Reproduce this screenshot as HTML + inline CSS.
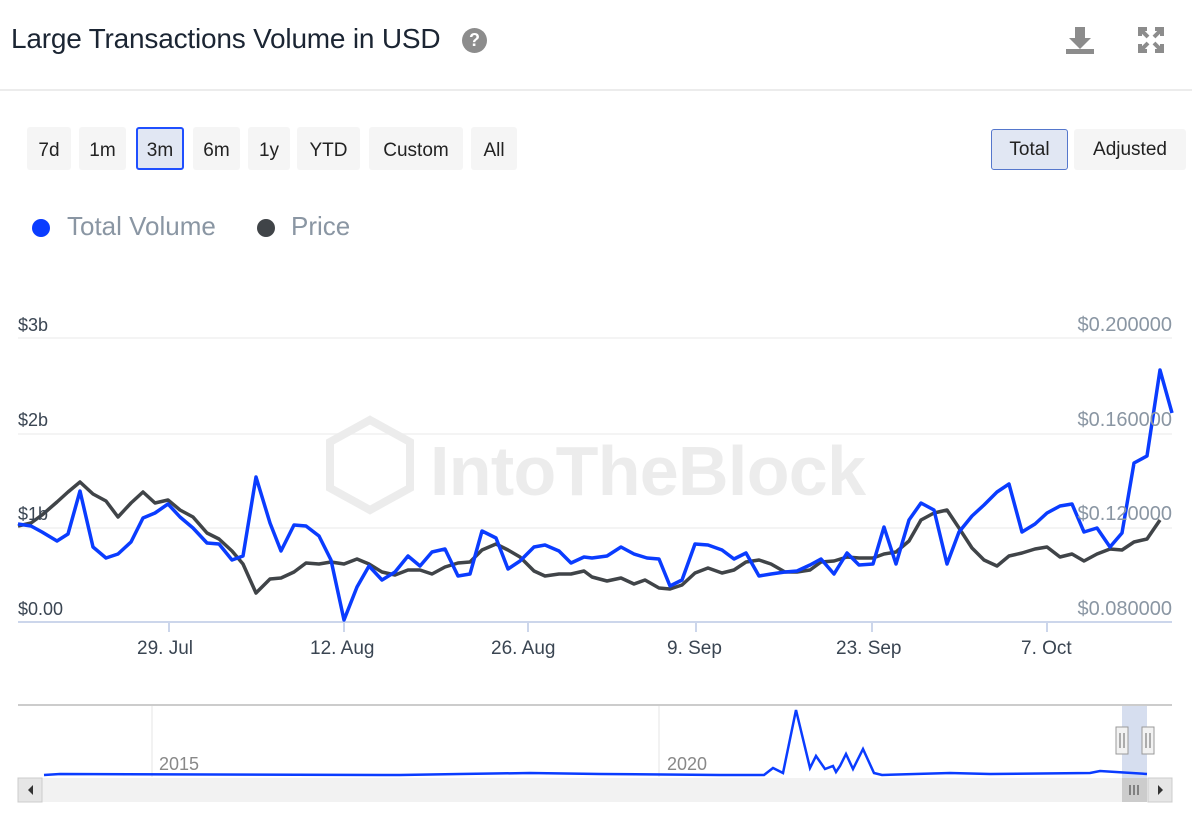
<!DOCTYPE html>
<html><head><meta charset="utf-8"><style>
body{margin:0;width:1192px;height:820px;background:#fff;font-family:"Liberation Sans",sans-serif;position:relative;overflow:hidden}
.t{position:absolute;left:11px;top:23px;font-size:28px;color:#1b2533;letter-spacing:-0.2px}
.q{position:absolute;left:462px;top:28px;width:25px;height:25px;border-radius:50%;background:#8c8c8c;color:#fff;font-weight:bold;font-size:18px;text-align:center;line-height:25px}
.hr{position:absolute;left:0;right:0;top:89px;height:2px;background:#ececec}
.b{position:absolute;top:127px;height:43px;background:#f5f5f5;border-radius:3px;font-size:19px;color:#222;text-align:center;line-height:48px;box-sizing:border-box}
.leg{position:absolute;top:211px;font-size:26px;color:#8a96a3}
.dot{position:absolute;top:219px;width:18px;height:18px;border-radius:50%}
.yl{position:absolute;font-size:18px;color:#3a4552}
.yr{position:absolute;font-size:20px;color:#8a96a3;right:20px}
.xl{position:absolute;top:638px;font-size:19px;color:#3a4552}
</style></head><body>
<div class="t">Large Transactions Volume in USD</div>
<div class="q">?</div>
<svg style="position:absolute;left:1064px;top:25px" width="32" height="30"><path d="M11 2h10v11h6l-11 11-11-11h6z" fill="#8c8c8c"/><rect x="2" y="24" width="28" height="5" fill="#8c8c8c"/></svg>
<svg style="position:absolute;left:1137px;top:26px" width="28" height="28" stroke="#8c8c8c" stroke-width="4" fill="none"><path d="M3 10V3h7M25 10V3h-7M3 18v7h7M25 18v7h-7M4 4l7 7M24 4l-7 7M4 24l7-7M24 24l-7-7"/></svg>
<div class="hr"></div>
<div class="b" style="left:27px;width:44px">7d</div>
<div class="b" style="left:79px;width:47px">1m</div>
<div class="b" style="left:136px;width:48px;background:#e1e7f3;border:2px solid #1f4fff;line-height:44px">3m</div>
<div class="b" style="left:193px;width:47px">6m</div>
<div class="b" style="left:248px;width:42px">1y</div>
<div class="b" style="left:297px;width:63px">YTD</div>
<div class="b" style="left:369px;width:94px">Custom</div>
<div class="b" style="left:471px;width:46px">All</div>
<div class="b" style="left:991px;width:77px;top:129px;height:41px;background:#e1e7f3;border:1px solid #5577cc;line-height:40px">Total</div>
<div class="b" style="left:1074px;width:112px;top:129px;height:41px;line-height:42px">Adjusted</div>
<div class="dot" style="left:32px;background:#0a3cff"></div><div class="leg" style="left:67px">Total Volume</div>
<div class="dot" style="left:257px;background:#404448"></div><div class="leg" style="left:291px">Price</div>
<svg style="position:absolute;left:0;top:0" width="1192" height="820">
<g stroke="#f0f0f0" stroke-width="1.5"><line x1="18" y1="338" x2="1172" y2="338"/><line x1="18" y1="434" x2="1172" y2="434"/><line x1="18" y1="528" x2="1172" y2="528"/></g>
<line x1="18" y1="622" x2="1172" y2="622" stroke="#ccd6eb" stroke-width="2"/>
<g stroke="#ccd6eb" stroke-width="2"><line x1="169" y1="622" x2="169" y2="632"/><line x1="344" y1="622" x2="344" y2="632"/><line x1="528" y1="622" x2="528" y2="632"/><line x1="696" y1="622" x2="696" y2="632"/><line x1="872" y1="622" x2="872" y2="632"/><line x1="1047" y1="622" x2="1047" y2="632"/></g>
<text x="430" y="495" font-size="70" font-weight="bold" fill="#ececec" font-family="Liberation Sans,sans-serif" textLength="436">IntoTheBlock</text>
<path d="M370 420l40 22v46l-40 22-40-22v-46z" fill="none" stroke="#ececec" stroke-width="8"/>
<polyline fill="none" stroke="#404448" stroke-width="3.5" stroke-linejoin="round" points="18,526 31,523 42,515 57,502 68,492 80,482 93,494 106,501 118,517 131,503 143,492 155,503 168,500 180,510 193,517 207,533 219,539 232,551 243,564 256,593 270,579 281,578 294,572 306,563 319,564 331,562 344,564 357,559 369,564 382,572 395,575 408,570 420,570 432,574 445,567 458,563 470,562 482,550 496,544 508,550 520,557 534,571 545,576 559,574 571,574 584,571 592,577 607,581 621,578 634,584 645,580 659,588 670,589 682,585 695,573 708,568 722,573 734,570 746,562 759,560 771,564 785,572 797,572 810,570 821,562 834,561 847,557 859,558 873,558 884,554 896,552 909,541 921,520 934,513 947,510 959,528 972,548 984,560 997,566 1009,556 1022,553 1035,549 1047,547 1060,557 1072,554 1084,561 1097,554 1110,549 1122,550 1134,542 1147,539 1160,520"/>
<polyline fill="none" stroke="#0a3cff" stroke-width="3.5" stroke-linejoin="round" points="18,524 31,526 42,532 57,541 68,534 80,491 93,547 106,558 118,554 131,542 143,518 155,513 168,504 180,517 193,528 207,543 219,544 232,560 243,556 256,477 270,523 281,551 294,525 306,526 319,536 331,560 344,620 357,587 369,566 382,580 395,572 408,556 420,566 432,552 445,549 458,576 470,574 482,531 496,538 508,569 520,561 534,547 545,545 559,551 571,563 584,557 592,558 607,556 621,547 634,554 647,558 659,559 670,586 682,580 695,544 708,545 722,550 734,559 746,553 759,576 771,574 785,572 797,571 810,565 821,559 834,574 847,553 859,565 873,564 884,527 896,564 909,520 921,503 934,510 947,564 959,532 972,516 984,505 997,492 1009,484 1022,532 1035,524 1047,513 1060,506 1072,504 1084,532 1097,528 1110,547 1122,533 1134,463 1147,456 1160,370 1172,413"/>
<line x1="18" y1="705" x2="1172" y2="705" stroke="#cccccc" stroke-width="2"/>
<line x1="152" y1="706" x2="152" y2="777" stroke="#e6e6e6"/><line x1="659" y1="706" x2="659" y2="777" stroke="#e6e6e6"/>
<text x="159" y="770" font-size="18" fill="#888">2015</text><text x="667" y="770" font-size="18" fill="#888">2020</text>
<rect x="1122" y="706" width="25" height="72" fill="#ccd6eb" opacity="0.8"/>
<polyline fill="none" stroke="#0a3cff" stroke-width="2.5" points="44,775 60,774 400,775 460,774 530,773 600,774 720,775 764,775 773,768 783,773 796,710 810,768 816,756 825,769 833,766 836,772 840,766 846,754 853,769 863,749 874,773 882,775 950,773 990,774 1090,773 1100,771 1147,774"/>
<rect x="18" y="778" width="1154" height="24" fill="#f2f2f2"/>
<rect x="18" y="778" width="24" height="24" fill="#e6e6e6" stroke="#ccc"/><path d="M33 785v10l-5-5z" fill="#333"/>
<rect x="1148" y="778" width="24" height="24" fill="#e6e6e6" stroke="#ccc"/><path d="M1158 785v10l5-5z" fill="#333"/>
<rect x="1122" y="778" width="25" height="24" fill="#ccc"/><path d="M1130 785v10M1134 785v10M1138 785v10" stroke="#333"/>
<rect x="1116" y="727" width="12" height="27" fill="#f2f2f2" stroke="#999"/><path d="M1120 733v15M1124 733v15" stroke="#666"/>
<rect x="1142" y="727" width="12" height="27" fill="#f2f2f2" stroke="#999"/><path d="M1146 733v15M1150 733v15" stroke="#666"/>
</svg>
<div class="yl" style="left:18px;top:315px">$3b</div>
<div class="yl" style="left:18px;top:410px">$2b</div>
<div class="yl" style="left:18px;top:504px">$1b</div>
<div class="yl" style="left:18px;top:599px">$0.00</div>
<div class="yr" style="top:314px">$0.200000</div>
<div class="yr" style="top:409px">$0.160000</div>
<div class="yr" style="top:503px">$0.120000</div>
<div class="yr" style="top:598px">$0.080000</div>
<div class="xl" style="left:137px">29. Jul</div>
<div class="xl" style="left:310px">12. Aug</div>
<div class="xl" style="left:491px">26. Aug</div>
<div class="xl" style="left:667px">9. Sep</div>
<div class="xl" style="left:836px">23. Sep</div>
<div class="xl" style="left:1021px">7. Oct</div>
</body></html>
